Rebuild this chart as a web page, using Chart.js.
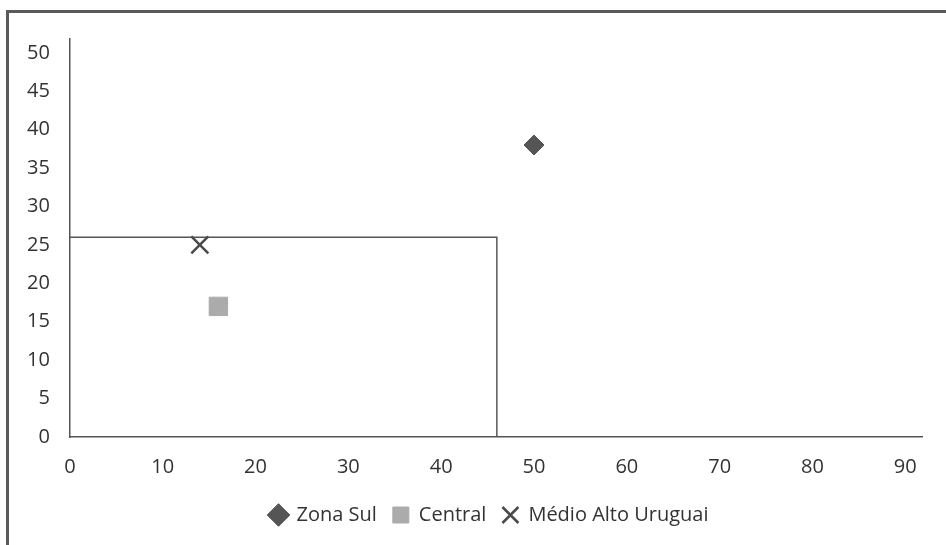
<!DOCTYPE html>
<html>
<head>
<meta charset="utf-8">
<script src="https://cdn.jsdelivr.net/npm/chart.js@4/dist/chart.umd.min.js"></script>
<style>
  html, body { margin: 0; padding: 0; background: #fff; }
  #wrap { position: relative; width: 946px; height: 545px; overflow: hidden; background: #fff; }
  #frame { position: absolute; left: 6px; top: 10px; width: 1200px; height: 800px;
           border-left: 3px solid #5a5a5a; border-top: 3px solid #5a5a5a; }
  #chart { position: absolute; left: 0; top: 0; }
</style>
</head>
<body>
<div id="wrap">
  <div id="frame"></div>
  <canvas id="chart" width="946" height="545"></canvas>
</div>
<script>
// data
var seriesNames = ['Zona Sul', 'Central', 'Médio Alto Uruguai'];
var zonaSul = [{ x: 50, y: 38 }];
var central = [{ x: 16, y: 17 }];
var medioAlto = [{ x: 14, y: 25 }];
// the box drawn over the plot
var boxLine = [{ x: 0, y: 26 }, { x: 46, y: 26 }, { x: 46, y: 0 }];
var xTicks = [0, 10, 20, 30, 40, 50, 60, 70, 80, 90];
var yTicks = [0, 5, 10, 15, 20, 25, 30, 35, 40, 45, 50];

var font = { family: 'Open Sans', size: 20 };

function keepTicks(list) {
    return function (scale) {
        scale.ticks = list.map(function (v) { return { value: v }; });
    };
}

// legend sits a bit right of the canvas centre in the original
var legendShift = {
    id: 'legendShift',
    afterUpdate: function (chart) {
        chart.legend.left += 21;
        chart.legend.right += 21;
    }
};

new Chart(document.getElementById('chart'), {
    type: 'scatter',
    data: {
        datasets: [
            {
                label: seriesNames[0],
                data: zonaSul,
                pointStyle: 'rectRot',
                pointRadius: 10,
                backgroundColor: '#555555',
                borderColor: '#555555',
                borderWidth: 1
            },
            {
                label: seriesNames[1],
                data: central,
                pointStyle: 'rect',
                pointRadius: 13,
                backgroundColor: '#ababab',
                borderColor: '#ababab',
                borderWidth: 1
            },
            {
                label: seriesNames[2],
                data: medioAlto,
                pointStyle: 'crossRot',
                pointRadius: 12,
                backgroundColor: '#4a4a4a',
                borderColor: '#4a4a4a',
                borderWidth: 2.5
            },
            {
                label: 'box',
                data: boxLine,
                showLine: true,
                pointRadius: 0,
                borderColor: '#555555',
                borderWidth: 1.5,
                fill: false
            }
        ]
    },
    plugins: [legendShift],
    options: {
        responsive: false,
        animation: false,
        layout: { padding: { left: 15, right: 24, top: 39, bottom: 10 } },
        plugins: {
            tooltip: { enabled: false },
            legend: {
                position: 'bottom',
                labels: {
                    usePointStyle: true,
                    boxWidth: 16,
                    boxHeight: 16,
                    padding: 16,
                    color: '#333',
                    font: font,
                    filter: function (item) { return item.text !== 'box'; }
                }
            }
        },
        scales: {
            x: {
                type: 'linear',
                min: 0,
                max: 91.8,
                afterBuildTicks: keepTicks(xTicks),
                grid: { display: false },
                border: { display: true, color: '#555', width: 1.5 },
                ticks: { color: '#333', font: font, padding: 10, maxRotation: 0 }
            },
            y: {
                type: 'linear',
                min: 0,
                max: 51.8,
                afterBuildTicks: keepTicks(yTicks),
                grid: { display: false },
                border: { display: true, color: '#555', width: 1.5 },
                ticks: { color: '#333', font: font, padding: 12 }
            }
        }
    }
});
</script>
</body>
</html>
